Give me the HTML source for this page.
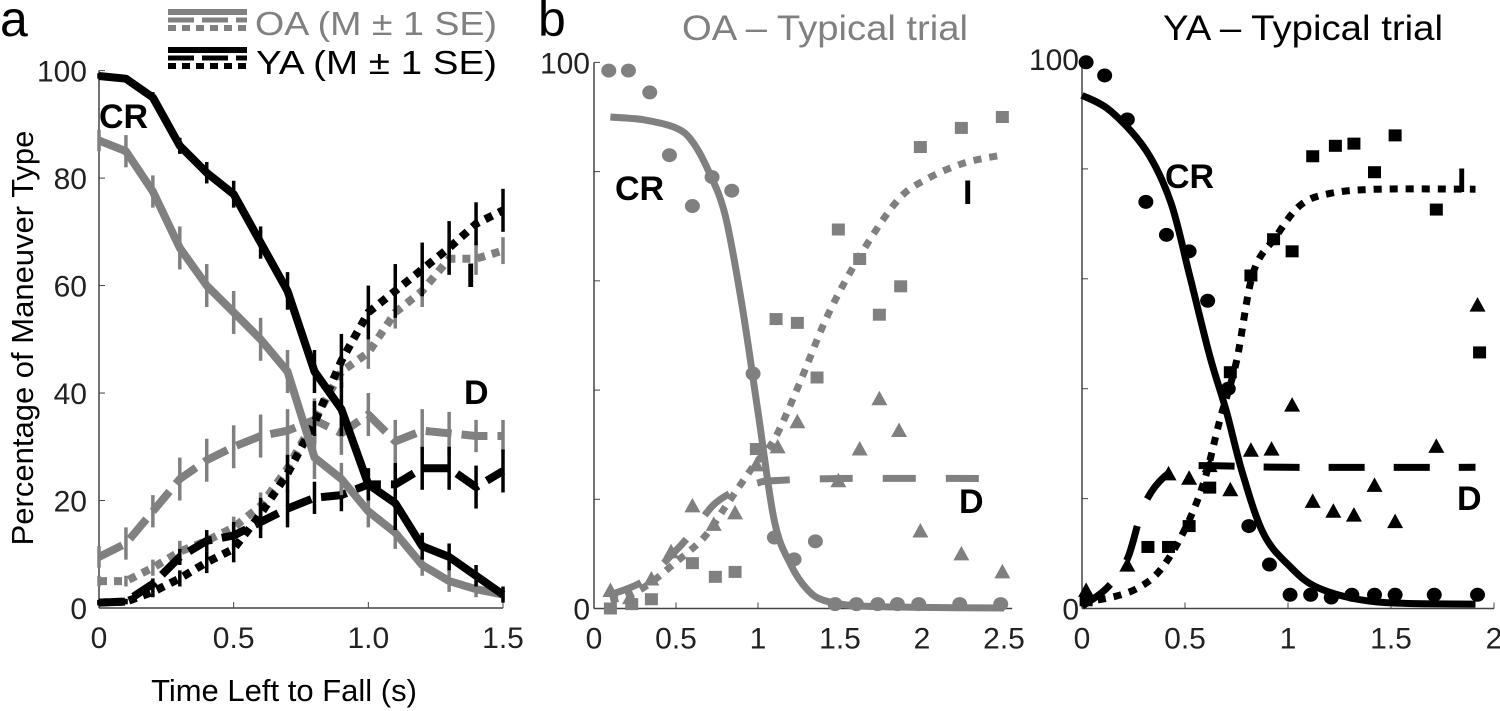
<!DOCTYPE html>
<html><head><meta charset="utf-8">
<style>
html,body{margin:0;padding:0;background:#fff;}
svg{display:block;font-family:"Liberation Sans",sans-serif;}
</style></head>
<body>
<svg id="fig" width="1500" height="711" viewBox="0 0 1500 711">
  <text x="0" y="36" font-size="50">a</text>
  <text x="538" y="36" font-size="50">b</text>
  <g>
    <line x1="168" y1="12" x2="247" y2="12" stroke="#808080" stroke-width="6"/>
    <line x1="168" y1="20" x2="247" y2="20" stroke="#808080" stroke-width="5" stroke-dasharray="26 8"/>
    <line x1="168" y1="28" x2="247" y2="28" stroke="#808080" stroke-width="6" stroke-dasharray="8 6"/>
    <text x="255" y="35" font-size="33" fill="#808080" textLength="242" lengthAdjust="spacingAndGlyphs">OA (M ± 1 SE)</text>
    <line x1="168" y1="50" x2="247" y2="50" stroke="#000" stroke-width="6"/>
    <line x1="168" y1="58" x2="247" y2="58" stroke="#000" stroke-width="5" stroke-dasharray="26 8"/>
    <line x1="168" y1="66" x2="247" y2="66" stroke="#000" stroke-width="6" stroke-dasharray="8 6"/>
    <text x="256" y="74" font-size="33" fill="#000" textLength="241" lengthAdjust="spacingAndGlyphs">YA (M ± 1 SE)</text>
  </g>
  <text x="0" y="0" font-size="31" transform="translate(33,338) rotate(-90)" text-anchor="middle">Percentage of Maneuver Type</text>
  <text x="284" y="701" font-size="31" text-anchor="middle">Time Left to Fall (s)</text>
  <text x="682" y="40" font-size="35" fill="#808080" textLength="286" lengthAdjust="spacingAndGlyphs">OA – Typical trial</text>
  <text x="1163" y="40" font-size="35" fill="#000" textLength="280" lengthAdjust="spacingAndGlyphs">YA – Typical trial</text>
  <g id="pa"></g><g id="pb"></g><g id="pc"></g>
</svg>
<script>
// ---------- Panel a data ----------
const aTimes = [0,0.1,0.2,0.3,0.4,0.5,0.6,0.7,0.8,0.9,1.0,1.1,1.2,1.3,1.4,1.5];
const aXTicks = [0,0.5,1.0,1.5];
const aXTickLabels = ["0","0.5","1.0","1.5"];
const aYTicks = [0,20,40,60,80,100];
const oaCR = [87,85,77.5,67,60,55,50,44,28,24,18,14,8,5,3.5,2.5];
const oaCRse = [2,3,3,4,4,4,4,4,4,3,3,3,2,2,1.5,1];
const yaCR = [99,98.5,95,86,81,77,68,59,44,37,23,19.5,11.5,9.5,6,2.5];
const yaCRse = [0.5,0.5,1,1.5,2,2.5,3,3.5,4,5,3,5,2.5,2.5,2,1.5];
const oaI = [5,5,7.5,10.5,12.5,15,19,26,35,44,47.5,55,59,65,65,66.5];
const oaIse = [1,1,1.5,2,2,2,2.5,3,3,3,3,3,3,3,3,2.5];
const yaI = [1,1.2,3,5.5,8.5,11,17.5,25,34.5,46,55,59,63,67,71.5,74];
const yaIse = [0.5,0.5,1,1.5,2,2.5,3,3.5,4,5,5,5,5,5,4,4];
const oaD = [9.5,12,18,24,27.5,30,32,33,35,32.5,36,31,33,32.5,32,32];
const oaDse = [2,3,3,4,4,4,4,4,4,4,4,4,4,4,3,3];
const yaD = [1,1.2,4.5,9.5,12.5,13.5,16,18.5,20.5,21,23,23,26,26,22.5,25.5];
const yaDse = [0.5,0.5,1,1.5,2,2.5,3,3.5,3,3,3,4,4,4,4,4];

// ---------- Panel b (OA typical trial) ----------
const bXTicks = [0,0.5,1,1.5,2,2.5];
const bXTickLabels = ["0","0.5","1","1.5","2","2.5"];
const oaTrialCRx = [0.09,0.21,0.34,0.46,0.6,0.72,0.84,0.97,1.1,1.22,1.35,1.47,1.6,1.73,1.85,1.98,2.23,2.48];
const oaTrialCRy = [98.5,98.5,94.5,83,73.7,79,76.5,43,13,9,12.3,0.8,0.8,0.8,0.8,0.8,0.8,0.8];
const oaTrialIx = [0.1,0.23,0.35,0.6,0.74,0.86,0.99,1.11,1.24,1.36,1.49,1.62,1.74,1.87,1.99,2.24,2.49];
const oaTrialIy = [0,0.8,1.7,8.3,5.8,6.7,29.2,53,52.3,42.3,69.4,64,53.8,59,84.5,88,90];
const oaTrialDx = [0.1,0.22,0.35,0.47,0.6,0.73,0.86,0.99,1.12,1.24,1.49,1.62,1.74,1.86,1.99,2.24,2.49];
const oaTrialDy = [3.3,2,5.4,10.4,18.8,15.4,17.5,26.3,29.6,34.2,23.4,29.2,38.4,32.6,14.2,10,6.7];
const oaFitCRx = [0.1,0.3,0.5,0.6,0.7,0.8,0.9,1.0,1.1,1.2,1.3,1.4,1.6,2.0,2.5];
const oaFitCRy = [90,89.5,88,85.5,80,72,56,36,16,8,3.5,1.5,0.5,0.2,0.1];
const oaFitIx = [0.1,0.22,0.34,0.48,0.67,0.81,0.97,1.1,1.25,1.43,1.63,1.85,2.02,2.25,2.48];
const oaFitIy = [1.5,2.5,4.6,8,13,19,26,31,41,54,65,74.7,78.5,81.5,83];
const oaFitDx = [0.1,0.3,0.48,0.6,0.73,0.87,1.0,1.09,1.5,2.48];
const oaFitDy = [2.5,5,10,14,19,21.7,23,23.4,23.8,23.8];

// ---------- Panel c (YA typical trial) ----------
const cXTicks = [0,0.5,1,1.5,2];
const cXTickLabels = ["0","0.5","1","1.5","2"];
const yaTrialCRx = [0.02,0.11,0.22,0.31,0.41,0.52,0.61,0.71,0.81,0.91,1.01,1.11,1.21,1.31,1.42,1.52,1.71,1.92];
const yaTrialCRy = [99.4,97,89,74,68,65,56,40,15,8,2.5,2.5,2,2.5,2.5,2.5,2.5,2.5];
const yaTrialIx = [0.02,0.32,0.42,0.52,0.62,0.72,0.82,0.93,1.02,1.12,1.23,1.32,1.42,1.52,1.72,1.93];
const yaTrialIy = [1.5,11.2,11.2,15,22,43,60.6,67.2,65,82.3,84.2,84.6,79.4,86.1,72.6,46.6];
const yaTrialDx = [0.02,0.22,0.42,0.52,0.62,0.72,0.82,0.92,1.02,1.12,1.22,1.32,1.42,1.52,1.72,1.92];
const yaTrialDy = [3.3,7.9,24.5,23.7,26,21.6,28.8,29,37,19.5,17.7,17,22.4,15.8,29.5,55.2];
const yaFitCRx = [0,0.14,0.31,0.43,0.52,0.62,0.7,0.78,0.88,1.0,1.15,1.43,1.91];
const yaFitCRy = [93.4,90.5,83.4,74,61,46,36,24.5,13.7,8,3.7,1.2,0.8];
const yaFitIx = [0,0.14,0.27,0.38,0.49,0.59,0.67,0.75,0.83,0.94,1.06,1.2,1.43,1.91];
const yaFitIy = [1.2,2,3.7,7,13.7,22.8,34.4,45,61,67.6,73.4,75.5,76.3,76.3];
const yaFitDx = [0,0.12,0.22,0.3,0.4,0.51,0.62,1.0,1.91];
const yaFitDy = [0.4,3.7,9,18.7,24,25.7,26,25.7,25.7];

const NS = "http://www.w3.org/2000/svg";
function mk(parent, tag, attrs){const e=document.createElementNS(NS,tag);for(const k in attrs)e.setAttribute(k,attrs[k]);parent.appendChild(e);return e;}
function scale(d0,d1,r0,r1){return v=>r0+(v-d0)/(d1-d0)*(r1-r0);}
function smoothPath(xs,ys,sx,sy){
  const P=xs.map((x,i)=>[sx(x),sy(ys[i])]);
  let d="M"+P[0][0].toFixed(1)+","+P[0][1].toFixed(1);
  for(let i=0;i<P.length-1;i++){
    const p0=P[Math.max(0,i-1)],p1=P[i],p2=P[i+1],p3=P[Math.min(P.length-1,i+2)];
    const c1=[p1[0]+(p2[0]-p0[0])/6,p1[1]+(p2[1]-p0[1])/6];
    const c2=[p2[0]-(p3[0]-p1[0])/6,p2[1]-(p3[1]-p1[1])/6];
    d+=" C"+c1[0].toFixed(1)+","+c1[1].toFixed(1)+" "+c2[0].toFixed(1)+","+c2[1].toFixed(1)+" "+p2[0].toFixed(1)+","+p2[1].toFixed(1);
  }
  return d;
}
function axes(g,sx,sy,x0,x1,xt,xl,yTicks,yLabels,labelX,name){
  const ax=mk(g,"g",{});
  
  
  mk(ax,"line",{x1:sx(x0),y1:sy(0),x2:sx(x1),y2:sy(0),stroke:"#444","stroke-width":1.5});
  mk(ax,"line",{x1:sx(x0),y1:sy(0),x2:sx(x0),y2:sy(100),stroke:"#444","stroke-width":1.5});
  xt.forEach((t,i)=>{
    mk(ax,"line",{x1:sx(t),y1:sy(0),x2:sx(t),y2:sy(0)-6,stroke:"#444","stroke-width":1});
    const tx=mk(ax,"text",{x:sx(t),y:sy(0)+40,"font-size":30,"text-anchor":"middle",fill:"#222"});
    tx.textContent=xl[i];
    
    
  });
  [0,20,40,60,80,100].forEach(t=>{
    mk(ax,"line",{x1:sx(x0),y1:sy(t),x2:sx(x0)+6,y2:sy(t),stroke:"#444","stroke-width":1});
  });
  yTicks.forEach((t,i)=>{
    const ty=mk(ax,"text",{x:labelX,y:sy(t)+11,"font-size":30,"text-anchor":"end",fill:"#222"});
    ty.textContent=yLabels[i];
    
    
  });
}
function label(g,x,y,txt,name){
  const t=mk(g,"text",{x:x,y:y,"font-size":34,"font-weight":"bold"});
  t.textContent=txt;
  
  
}

// Panel a
(function(){
  const g=document.getElementById("pa");
  const sx=scale(0,1.5,99,503), sy=scale(0,100,608,70.6);
  axes(g,sx,sy,0,1.5,aXTicks,aXTickLabels,aYTicks,aYTicks.map(String),87,"panel-a");
  const series=[
    [oaD,oaDse,"#808080","26 10","oa-d-line"],
    [oaI,oaIse,"#808080","8 7","oa-i-line"],
    [yaD,yaDse,"#000","26 10","ya-d-line"],
    [yaI,yaIse,"#000","8 7","ya-i-line"],
    [oaCR,oaCRse,"#808080","","oa-cr-line"],
    [yaCR,yaCRse,"#000","","ya-cr-line"]];
  series.forEach(s=>{
    const [vals,se,col,dash,name]=s;
    const sg=mk(g,"g",{});
    
    
    const pts=aTimes.map((t,i)=>sx(t).toFixed(1)+","+sy(vals[i]).toFixed(1)).join(" ");
    const pl=mk(sg,"polyline",{points:pts,fill:"none",stroke:col,"stroke-width":8,"stroke-linejoin":"round"});
    if(dash)pl.setAttribute("stroke-dasharray",dash);
    aTimes.forEach((t,i)=>{
      const eb=mk(sg,"line",{x1:sx(t),x2:sx(t),y1:sy(vals[i]+se[i]),y2:sy(vals[i]-se[i]),stroke:col,"stroke-width":3.5});
      
      
    });
  });
  label(g,99,128,"CR","label-cr-a");
  label(g,466,287,"I","label-i-a");
  label(g,464,404,"D","label-d-a");
})();

function markers(g,xs,ys,sx,sy,type,col,name){
  const mg=mk(g,"g",{});
  
  
  xs.forEach((x,i)=>{
    const cx=sx(x), cy=sy(ys[i]); let m;
    if(type==="c") m=mk(mg,"ellipse",{cx:cx,cy:cy,rx:7.5,ry:7,fill:col});
    else if(type==="s") m=mk(mg,"rect",{x:cx-6.5,y:cy-6,width:13,height:12,fill:col});
    else m=mk(mg,"polygon",{points:(cx-8)+","+(cy+6.5)+" "+(cx+8)+","+(cy+6.5)+" "+cx+","+(cy-8),fill:col});
    
    
  });
}
function fit(g,xs,ys,sx,sy,col,dash,name){
  const p=mk(g,"path",{d:smoothPath(xs,ys,sx,sy),fill:"none",stroke:col,"stroke-width":7});
  if(dash)p.setAttribute("stroke-dasharray",dash);
  
  
}

// Panel b
(function(){
  const g=document.getElementById("pb");
  const sx=scale(0,1,594,758), sy=scale(0,100,608.5,62.4);
  axes(g,sx,sy,0,2.55,bXTicks,bXTickLabels,[0,100],["0","100"],590,"panel-b");
  fit(g,oaFitDx,oaFitDy,sx,sy,"#808080","33 30","oa-fit-d");
  fit(g,oaFitIx,oaFitIy,sx,sy,"#808080","8 8","oa-fit-i");
  fit(g,oaFitCRx,oaFitCRy,sx,sy,"#808080","","oa-fit-cr");
  markers(g,oaTrialCRx,oaTrialCRy,sx,sy,"c","#808080","oa-cr-points");
  markers(g,oaTrialIx,oaTrialIy,sx,sy,"s","#808080","oa-i-points");
  markers(g,oaTrialDx,oaTrialDy,sx,sy,"t","#808080","oa-d-points");
  label(g,615,200,"CR","label-cr-b");
  label(g,963,204,"I","label-i-b");
  label(g,959,513,"D","label-d-b");
})();

// Panel c
(function(){
  const g=document.getElementById("pc");
  const sx=scale(0,1,1082,1288), sy=scale(0,100,608.5,59);
  axes(g,sx,sy,0,2,cXTicks,cXTickLabels,[0,100],["0","100"],1079,"panel-c");
  fit(g,yaFitDx,yaFitDy,sx,sy,"#000","36 29","ya-fit-d");
  fit(g,yaFitIx,yaFitIy,sx,sy,"#000","8 8","ya-fit-i");
  fit(g,yaFitCRx,yaFitCRy,sx,sy,"#000","","ya-fit-cr");
  markers(g,yaTrialCRx,yaTrialCRy,sx,sy,"c","#000","ya-cr-points");
  markers(g,yaTrialIx,yaTrialIy,sx,sy,"s","#000","ya-i-points");
  markers(g,yaTrialDx,yaTrialDy,sx,sy,"t","#000","ya-d-points");
  label(g,1165,188,"CR","label-cr-c");
  label(g,1457,192,"I","label-i-c");
  label(g,1457,510,"D","label-d-c");
})();
</script>
</body></html>
